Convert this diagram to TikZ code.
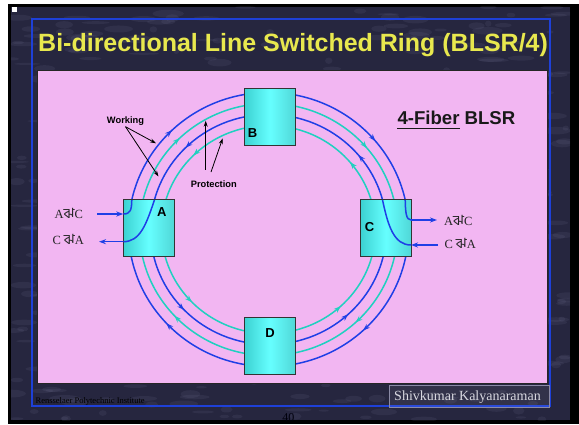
\documentclass[tikz,border=0pt]{standalone}
\usepackage{fontspec}
\setmainfont{Liberation Serif}
\setsansfont{Liberation Sans}
\newfontfamily\bengf[Script=Bengali]{Hind Siliguri}
\usetikzlibrary{arrows.meta,decorations.markings,calc}
\definecolor{ringblue}{HTML}{1F3FE6}
\definecolor{ringteal}{HTML}{20D0C0}
\definecolor{pinkbg}{HTML}{F2B6F2}
\definecolor{titley}{HTML}{E8E84E}
\definecolor{framebl}{HTML}{1E40D8}
\definecolor{darkbg}{HTML}{26263F}
\definecolor{blobc}{HTML}{8A8AB0}
\definecolor{cyanedge}{HTML}{3CD2D2}
\definecolor{cyanmid}{HTML}{66FFFF}
\definecolor{skgray}{HTML}{8A8AA6}
\definecolor{sktext}{HTML}{D8D8E0}
\tikzset{
  fib/.style={line width=1.5pt},
  cwarr/.style={postaction={decorate},decoration={markings,
    mark=at position 0.111 with {\arrowreversed{Stealth[length=7pt,width=5pt]}},
    mark=at position 0.372 with {\arrowreversed{Stealth[length=7pt,width=5pt]}},
    mark=at position 0.619 with {\arrowreversed{Stealth[length=7pt,width=5pt]}},
    mark=at position 0.869 with {\arrowreversed{Stealth[length=7pt,width=5pt]}}}},
  ccwarr/.style={postaction={decorate},decoration={markings,
    mark=at position 0.111 with {\arrow{Stealth[length=7pt,width=5pt]}},
    mark=at position 0.375 with {\arrow{Stealth[length=7pt,width=5pt]}},
    mark=at position 0.622 with {\arrow{Stealth[length=7pt,width=5pt]}},
    mark=at position 0.869 with {\arrow{Stealth[length=7pt,width=5pt]}}}},
  nebox/.style={draw=black!80, line width=0.9pt, left color=cyanedge,
    right color=cyanedge!90!white, middle color=cyanmid,
    minimum width=51pt, minimum height=57pt, inner sep=0pt},
  boxlab/.style={font=\sffamily\bfseries\fontsize{13}{15}\selectfont, inner sep=0pt},
  ptr/.style={draw=black, line width=0.8pt, -{Stealth[length=6pt,width=4pt]}},
  smalllab/.style={font=\sffamily\bfseries\fontsize{9.3}{11}\selectfont, inner sep=0pt},
  trafficlab/.style={font=\fontsize{12.5}{14}\selectfont, text=black!85, inner sep=0pt, anchor=base west},
}
\newcommand{\bidi}{{\bengf\fontsize{14}{14}\selectfont ঝ}}
\begin{document}
\begin{tikzpicture}[x=1pt,y=1pt]
\useasboundingbox (0,0) rectangle (579,424);
% page background
\fill[white] (0,0) rectangle (579,424);
\fill[black] (8,0) rectangle (579,420);
\fill[darkbg] (11,4) rectangle (570,417);
\begin{scope}
  \clip (11,4) rectangle (570,417);
  \pgfmathsetseed{11}
  \foreach \i in {1,...,520}{
    \pgfmathsetmacro\bx{11+559*rnd}
    \pgfmathsetmacro\by{4+413*rnd}
    \pgfmathsetmacro\bw{3+13*rnd}
    \pgfmathsetmacro\bh{1+3*rnd}
    \fill[blobc, opacity=0.1] (\bx,\by) ellipse [x radius=\bw pt, y radius=\bh pt];
  }
\end{scope}
\fill[white] (12,412.3) rectangle (17.3,417.3);
% frame
\draw[framebl, line width=1.6pt] (32,18) rectangle (550,405);
% title
\node[anchor=base west, inner sep=0pt, text=titley,
  font=\sffamily\bfseries\fontsize{25}{30}\selectfont] (title) at (38,372)
  {Bi-directional Line Switched Ring (BLSR/4)};
% panel
\draw[draw=black!85, line width=0.9pt, fill=pinkbg] (37,41) rectangle (547,354);
% ring
\coordinate (ctr) at (268.5,194.5);
\draw[ringblue, fib, cwarr] ($(ctr)+(0:140pt and 137pt)$)
  arc[start angle=0, end angle=360, x radius=140pt, y radius=137pt];
\draw[ringteal, fib, cwarr] ($(ctr)+(0:129pt and 126pt)$)
  arc[start angle=0, end angle=360, x radius=129pt, y radius=126pt];
\draw[ringblue, fib, ccwarr] ($(ctr)+(0:118pt and 115pt)$)
  arc[start angle=0, end angle=360, x radius=118pt, y radius=115pt];
\draw[ringteal, fib, ccwarr] ($(ctr)+(0:107pt and 104pt)$)
  arc[start angle=0, end angle=360, x radius=107pt, y radius=104pt];
% network elements
\node[nebox] (A) at (148.8,195.7) {};
\node[nebox] (B) at (270,307) {};
\node[nebox] (C) at (386,195.7) {};
\node[nebox] (D) at (270,78) {};
\node[boxlab] (Alab) at (161.7,211.5) {A};
\node[boxlab] (Blab) at (252.5,290.5) {B};
\node[boxlab] (Clab) at (369.5,197) {C};
\node[boxlab] (Dlab) at (270,91) {D};
% add/drop at A
\coordinate (P1) at ($(ctr)+(167.6:140pt and 137pt)$);
\coordinate (P2) at ($(ctr)+(165.1:118pt and 115pt)$);
\coordinate (Aw1) at (123.3,210);
\coordinate (Aw2) at (123.3,182.3);
\coordinate (Ain) at (97,210);
\coordinate (Aout) at (99,182.3);
\draw[ringblue, fib] (Aw1) .. controls (130.5,210) and (131.6,214) .. (P1);
\draw[ringblue, fib] (P2) .. controls (146,199) and (140,182.3) .. (Aw2);
\draw[ringblue, fib, -{Stealth[length=7pt,width=5pt]}] (Ain) -- (Aw1);
\draw[ringblue, fib, -{Stealth[length=7pt,width=5pt]}] (Aw2) -- (Aout);
% add/drop at C
\coordinate (P3) at ($(ctr)+(12.4:140pt and 137pt)$);
\coordinate (P4) at ($(ctr)+(14.9:118pt and 115pt)$);
\coordinate (Cw1) at (411,204);
\coordinate (Cw2) at (411,179);
\coordinate (Cout) at (437,204);
\coordinate (Cin) at (438,179);
\draw[ringblue, fib] (P3) .. controls (405.5,212) and (406,204) .. (Cw1);
\draw[ringblue, fib] (Cw2) .. controls (394,179) and (388,198) .. (P4);
\draw[ringblue, fib, -{Stealth[length=7pt,width=5pt]}] (Cw1) -- (Cout);
\draw[ringblue, fib, -{Stealth[length=7pt,width=5pt]}] (Cin) -- (Cw2);
% traffic labels
\node[trafficlab] (tA1) at (54.5,205) {A\bidi C};
\node[trafficlab] (tA2) at (52.3,179) {C \bidi A};
\node[trafficlab] (tC1) at (444,199) {A\bidi C};
\node[trafficlab] (tC2) at (444.3,175.7) {C \bidi A};
% working / protection
\node[smalllab, anchor=base] (wk) at (125.5,300) {Working};
\coordinate (wt1) at (156,280.7);
\coordinate (wt2) at (158.5,247.5);
\draw[ptr] ([yshift=-2.7pt]wk.base) -- (wt1);
\draw[ptr] ([yshift=-2.7pt]wk.base) -- (wt2);
\node[smalllab, anchor=base] (pr) at (213.8,236.7) {Protection};
\coordinate (pt1) at (205.7,303.3);
\coordinate (pt2) at (222.7,285.7);
\draw[ptr] ([xshift=-8.1pt,yshift=10.6pt]pr.north) -- (pt1);
\draw[ptr] ([xshift=-2.8pt,yshift=8.3pt]pr.north) -- (pt2);
% 4-fiber label
\node[anchor=base west, inner sep=0pt, font=\sffamily\bfseries\fontsize{18.6}{22}\selectfont,
  text=black!90] (fiber) at (397.3,299) {4-Fiber BLSR};
\draw[black!90, line width=1.4pt] ([yshift=-3.5pt]fiber.base west) -- ++(62.3,0);
% footer
\node[anchor=base west, inner sep=0pt, font=\fontsize{8.5}{10}\selectfont, text=black]
  (rpi) at (35.4,21) {Rensselaer Polytechnic Institute};
\node[anchor=base, inner sep=0pt, font=\fontsize{12}{14}\selectfont, text=black!95!blue]
  (pg) at (288.3,3) {40};
\node[draw=skgray, line width=1pt, fill=white, fill opacity=0.06, text opacity=1,
  minimum width=160pt, minimum height=22pt, inner sep=0pt] (skbox) at (469,28) {};
\node[anchor=base, inner sep=0pt, font=\fontsize{14}{16}\selectfont, text=sktext]
  (sk) at (467.5,24) {Shivkumar Kalyanaraman};
\end{tikzpicture}
\end{document}
